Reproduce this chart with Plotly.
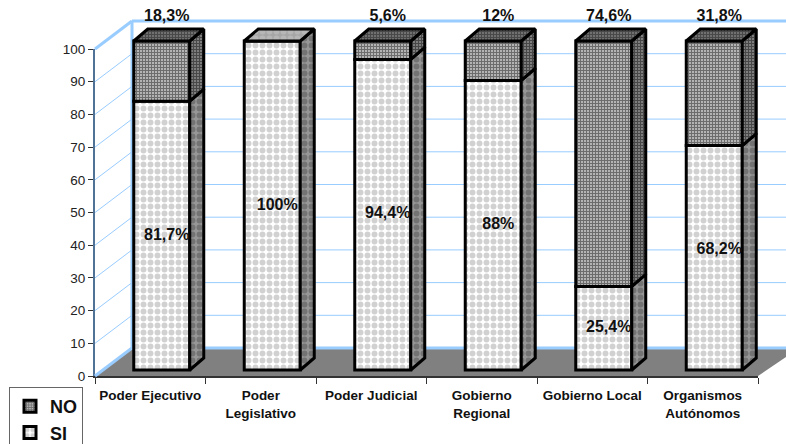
import plotly.graph_objects as go

categories = ["Poder Ejecutivo", "Poder<br>Legislativo", "Poder Judicial", "Gobierno<br>Regional",
              "Gobierno Local", "Organismos<br>Autónomos"]
si_values = [81.7, 100, 94.4, 88, 25.4, 68.2]
no_values = [18.3, 0, 5.6, 12, 74.6, 31.8]
si_labels = ["81,7%", "100%", "94,4%", "88%", "25,4%", "68,2%"]
no_labels = ["18,3%", "", "5,6%", "12%", "74,6%", "31,8%"]
y_ticks = list(range(0, 101, 10))

W, H = 786, 444
X0, X1 = 95, 758      # front plane, pixels
Y0, Y100 = 376, 49
KX = (X1 - X0) / 6
KY = (Y0 - Y100) / 100
px = lambda p: p / KX          # horizontal pixels -> x2 units
py = lambda p: p / KY          # vertical pixels -> y2 units

BAR_W = px(56)
BAR_SHIFT = px(11.5)
BAR_BASE = py(6)
BAR_SCALE = (329 / 327)
DEPTH_X, DEPTH_Y = px(14), py(12)
WALL_X, WALL_Y = px(37), py(28)

fig = go.Figure()

# invisible trace that gives the visible axes their categories
fig.add_trace(go.Scatter(x=categories, y=[None] * 6, mode="lines", showlegend=False,
                         hoverinfo="skip", xaxis="x", yaxis="y"))

centers = [i + 0.5 + BAR_SHIFT for i in range(6)]
SI_FRONT = dict(shape=".", bgcolor="white", fgcolor="#a4a4a4", size=7, solidity=0.55)
NO_FRONT = dict(shape="+", bgcolor="#b4b4b4", fgcolor="#242424", size=3, solidity=0.55)
SI_SIDE = dict(shape=".", bgcolor="#969696", fgcolor="#505050", size=7, solidity=0.55)
NO_SIDE = dict(shape="+", bgcolor="#808080", fgcolor="#101010", size=3, solidity=0.6)
SI_TOP = dict(shape=".", bgcolor="#a6a6a6", fgcolor="#c8c8c8", size=7, solidity=0.55)
NO_TOP = dict(shape="+", bgcolor="#707070", fgcolor="#202020", size=3, solidity=0.55)
LINE = dict(color="black", width=3)

fig.add_trace(go.Bar(name="SI", x=centers, y=[v * BAR_SCALE for v in si_values],
                     base=[BAR_BASE] * 6, width=BAR_W, xaxis="x2", yaxis="y2",
                     marker=dict(pattern=SI_FRONT, color="white", line=LINE), hoverinfo="skip"))
fig.add_trace(go.Bar(name="NO", x=centers, y=[v * BAR_SCALE for v in no_values],
                     base=[BAR_BASE + s * BAR_SCALE for s in si_values], width=BAR_W, xaxis="x2", yaxis="y2",
                     marker=dict(pattern=NO_FRONT, color="#b4b4b4", line=LINE), hoverinfo="skip"))


def poly(pattern, color, pts):
    xs, ys = [], []
    for p in pts:
        xs += [q[0] for q in p] + [p[0][0], None]
        ys += [q[1] for q in p] + [p[0][1], None]
    fig.add_trace(go.Scatter(x=xs, y=ys, mode="lines", fill="toself", fillcolor=color, fillpattern=pattern,
                             line=LINE, showlegend=False, hoverinfo="skip", xaxis="x2", yaxis="y2"))


def side(c, lo, hi):
    r = c + BAR_W / 2
    return [(r, lo), (r + DEPTH_X, lo + DEPTH_Y), (r + DEPTH_X, hi + DEPTH_Y), (r, hi)]


def top(c, h):
    l, r = c - BAR_W / 2, c + BAR_W / 2
    return [(l, h), (l + DEPTH_X, h + DEPTH_Y), (r + DEPTH_X, h + DEPTH_Y), (r, h)]


totals = [BAR_BASE + (s + n) * BAR_SCALE for s, n in zip(si_values, no_values)]
mids = [BAR_BASE + s * BAR_SCALE for s in si_values]
poly(SI_SIDE, "#969696", [side(c, BAR_BASE, m) for c, m in zip(centers, mids)])
poly(NO_SIDE, "#808080", [side(c, m, t) for c, m, t, n in zip(centers, mids, totals, no_values) if n > 0])
poly(NO_TOP, "#707070", [top(c, t) for c, t, n in zip(centers, totals, no_values) if n > 0])
poly(SI_TOP, "#a6a6a6", [top(c, t) for c, t, n in zip(centers, totals, no_values) if n == 0])

LABEL_SHIFT = px(5)
SI_LABEL_RAISE = [py(p) for p in (0, 0, 1, 0, 0, 8)]
label_font = dict(family="Liberation Sans", size=16, color="#111111", weight="bold")
fig.add_trace(go.Scatter(x=[c + LABEL_SHIFT for c in centers],
                         y=[BAR_BASE + s * BAR_SCALE / 2 + r for s, r in zip(si_values, SI_LABEL_RAISE)],
                         text=si_labels, mode="text", textposition="middle center", textfont=label_font,
                         showlegend=False, hoverinfo="skip", xaxis="x2", yaxis="y2"))
fig.add_trace(go.Scatter(x=[c + LABEL_SHIFT for c in centers],
                         y=[py(Y0 - 17)] * 6,
                         text=no_labels, mode="text", textposition="middle center", textfont=label_font,
                         showlegend=False, hoverinfo="skip", xaxis="x2", yaxis="y2"))

# walls and floor
XMAX = (W - X0) / KX
shapes = []
floor = [(0, 0), (WALL_X, WALL_Y), (XMAX, WALL_Y), (XMAX, py(19)), (6, 0)]
shapes.append(dict(type="path", path="M" + " L".join(f"{a},{b}" for a, b in floor) + " Z",
                   fillcolor="#808080", line=dict(width=0), xref="x2", yref="y2", layer="below"))
BLUE = "#99ccff"
for t in y_ticks:
    w = 3 if t in (0, 100) else 1
    shapes.append(dict(type="line", x0=0, y0=t, x1=WALL_X, y1=t + WALL_Y, xref="x2", yref="y2", layer="below",
                       line=dict(color=BLUE, width=w)))
    shapes.append(dict(type="line", x0=WALL_X, y0=t + WALL_Y, x1=XMAX, y1=t + WALL_Y, xref="x2", yref="y2",
                       layer="below", line=dict(color=BLUE, width=w)))
shapes.append(dict(type="line", x0=WALL_X, y0=WALL_Y, x1=WALL_X, y1=100 + WALL_Y, xref="x2", yref="y2",
                   layer="below", line=dict(color=BLUE, width=3)))

tick_font = dict(family="Liberation Sans", size=13.5, color="#222222")
fig.update_layout(
    width=W, height=H, margin=dict(l=0, r=0, t=0, b=0, autoexpand=False), paper_bgcolor="white",
    plot_bgcolor="rgba(0,0,0,0)", shapes=shapes, barmode="overlay", hovermode=False,
    xaxis=dict(domain=[X0 / W, X1 / W], type="category", categoryorder="array", categoryarray=categories,
               range=[-0.5, 5.5], tickson="boundaries", ticks="outside", ticklen=6, tickcolor="#333333", tickwidth=1,
               ticklabelstandoff=6,
               showline=True, linecolor="#333333", linewidth=2, showgrid=False, anchor="y", automargin=False,
               tickangle=0, tickfont=dict(family="Liberation Sans", size=13.5, color="#111111", weight="bold")),
    yaxis=dict(domain=[1 - Y0 / H, 1 - Y100 / H], range=[0, 100], tickvals=y_ticks, ticks="outside", ticklen=5,
               tickcolor="#333333", showline=True, linecolor="#4f7296", linewidth=2, showgrid=False,
               zeroline=False, anchor="x", automargin=False, tickfont=tick_font),
    xaxis2=dict(domain=[0, 1], range=[-X0 / KX, (W - X0) / KX], visible=False, anchor="y2"),
    yaxis2=dict(domain=[0, 1], range=[(Y0 - H) / KY, Y0 / KY], visible=False, anchor="x2"),
    legend=dict(x=9 / W, y=1 - 387 / H, xanchor="left", yanchor="top", xref="container", yref="container",
                bordercolor="#666666", borderwidth=1, traceorder="reversed", bgcolor="white", itemwidth=30,
                font=dict(family="Liberation Sans", size=18, color="#111111", weight="bold")),
)
fig.write_html("out.html", post_script="document.body.style.margin='0';", config=dict(displayModeBar=False))
